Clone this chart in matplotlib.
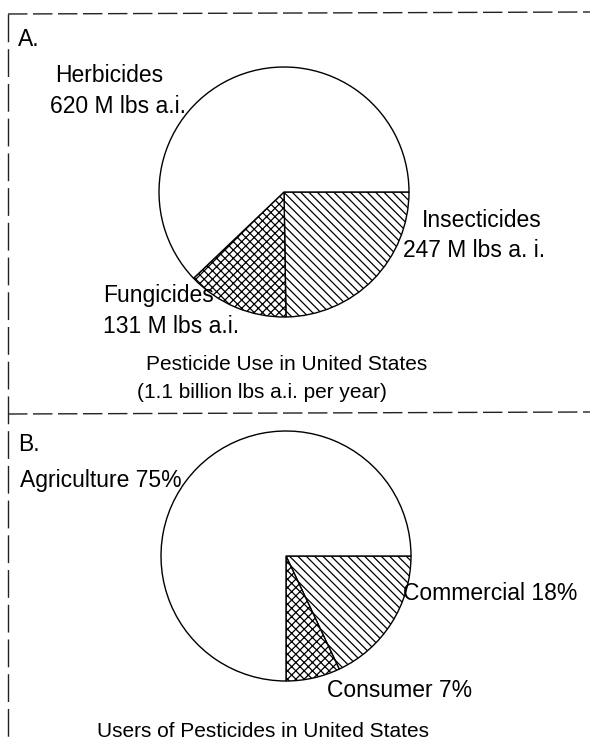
import matplotlib
matplotlib.use("Agg")
import matplotlib.pyplot as plt

plt.rcParams['font.family'] = ['Liberation Sans', 'DejaVu Sans']
plt.rcParams['hatch.linewidth'] = 0.9

# ---- data ----
use_categories = ["Insecticides", "Fungicides", "Herbicides"]
use_values = [247, 131, 620]            # M lbs a.i.
use_labels = ["247 M lbs a. i.", "131 M lbs a.i.", "620 M lbs a.i."]
use_title = ["Pesticide Use in United States", "(1.1 billion lbs a.i. per year)"]

user_categories = ["Commercial", "Consumer", "Agriculture"]
user_values = [18, 7, 75]               # percent
user_title = "Users of Pesticides in United States"

hatches = ["\\" * 4, "xxxx", ""]

W, H = 590, 742
fig = plt.figure(figsize=(W / 100, H / 100), dpi=100)
ax = fig.add_axes([0, 0, 1, 1])

def Y(y):
    return H - y

wp = dict(edgecolor="black", linewidth=1.0)

ax.pie(use_values, startangle=0, counterclock=False, center=(284, Y(192)),
       radius=125, colors=["white"] * 3, hatch=hatches, wedgeprops=wp)
ax.pie(user_values, startangle=0, counterclock=False, center=(286, Y(556)),
       radius=125, colors=["white"] * 3, hatch=hatches, wedgeprops=wp)

ax.set_xlim(0, W)
ax.set_ylim(0, H)
ax.set_aspect("equal")
ax.axis("off")

fs_lab = 16.5
fs_tit = 15
tk = dict(color="black", va="baseline")

ax.text(18, Y(46), "A.", fontsize=fs_lab, **tk)
ax.text(55, Y(82), use_categories[2], fontsize=fs_lab, **tk)
ax.text(50, Y(113), use_labels[2], fontsize=fs_lab, **tk)
ax.text(422, Y(227), use_categories[0], fontsize=fs_lab, **tk)
ax.text(403, Y(257), use_labels[0], fontsize=fs_lab, **tk)
ax.text(103, Y(302), use_categories[1], fontsize=fs_lab, **tk)
ax.text(103, Y(333), use_labels[1], fontsize=fs_lab, **tk)
ax.text(287, Y(370), use_title[0], fontsize=fs_tit, ha="center", **tk)
ax.text(262, Y(398), use_title[1], fontsize=fs_tit, ha="center", **tk)

ax.text(18, Y(451), "B.", fontsize=fs_lab, **tk)
ax.text(20, Y(487), f"{user_categories[2]} {user_values[2]}%", fontsize=fs_lab, **tk)
ax.text(403, Y(600), f"{user_categories[0]} {user_values[0]}%", fontsize=fs_lab, **tk)
ax.text(327, Y(697), f"{user_categories[1]} {user_values[1]}%", fontsize=fs_lab, **tk)
ax.text(263, Y(737), user_title, fontsize=fs_tit, ha="center", **tk)

# dashed frame lines
ls = dict(color="#222222", linewidth=1.0, linestyle=(0, (14, 4)))
ax.plot([8, 590], [Y(14), Y(12)], **ls)
ax.plot([8, 8], [Y(14), Y(742)], color="#222222", linewidth=1.0, linestyle=(0, (20, 5)))
ax.plot([8, 590], [Y(414), Y(412)], **ls)

fig.savefig("out.png", dpi=100)
